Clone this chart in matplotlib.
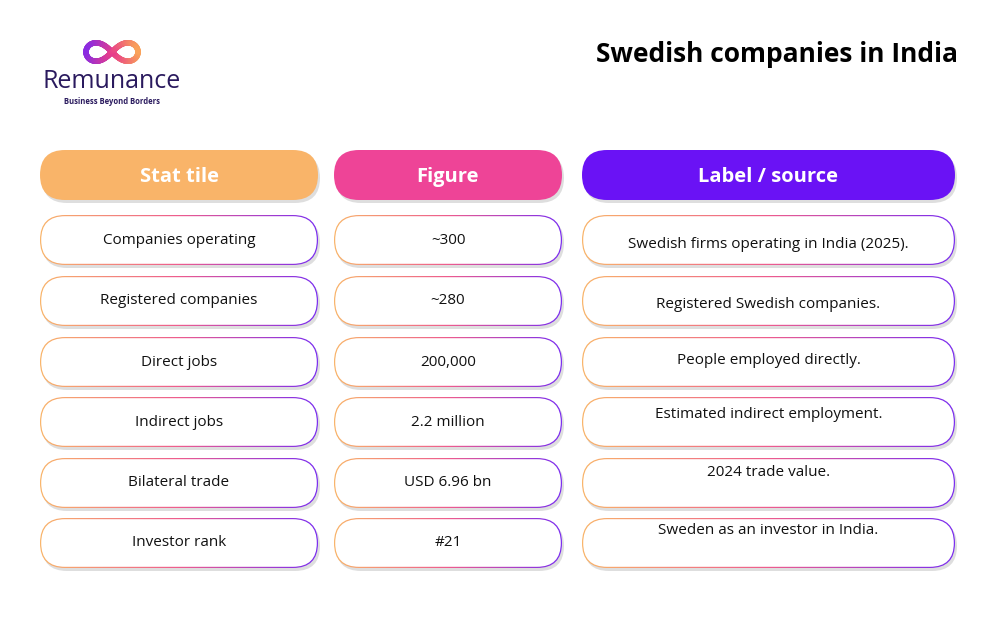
import numpy as np
import matplotlib
matplotlib.use("Agg")
import matplotlib.pyplot as plt
from matplotlib.patches import FancyBboxPatch
from matplotlib.colors import LinearSegmentedColormap

title = "Swedish companies in India"
headers = ["Stat tile", "Figure", "Label / source"]
stats = ["Companies operating", "Registered companies", "Direct jobs", "Indirect jobs",
         "Bilateral trade", "Investor rank"]
figures = ["~300", "~280", "200,000", "2.2 million", "USD 6.96 bn", "#21"]
labels = ["Swedish firms operating in India (2025).", "Registered Swedish companies.",
          "People employed directly.", "Estimated indirect employment.",
          "2024 trade value.", "Sweden as an investor in India."]

FONT = ["Open Sans", "DejaVu Sans"]
fig = plt.figure(figsize=(10, 6.17), dpi=100)
ax = fig.add_axes([0, 0, 1, 1])
ax.set_xlim(0, 1000); ax.set_ylim(617, 0); ax.axis("off")

cols = [(40, 318), (334, 562), (582, 955)]
head_cols = ["#F9B469", "#EE4497", "#6A12F5"]
grad = LinearSegmentedColormap.from_list("g", ["#F9B469", "#EE5C8E", "#7A2CF0"])

def pill(x0, x1, y0, y1, fc, z=2, shadow=True):
    h = y1 - y0
    r = h / 2
    if shadow:
        ax.add_patch(FancyBboxPatch((x0 + r + 2, y0 + r + 3), (x1 - x0) - 2 * r, 0,
                                    boxstyle=f"round,pad={r}", fc=(0, 0, 0, 0.13), ec="none", zorder=z - 1))
    return ax.add_patch(FancyBboxPatch((x0 + r, y0 + r), (x1 - x0) - 2 * r, 0,
                                       boxstyle=f"round,pad={r}", fc=fc, ec="none", zorder=z))

for (x0, x1), c, t in zip(cols, head_cols, headers):
    pill(x0, x1, 150, 200, c)
    ax.text((x0 + x1) / 2, 177, t, ha="center", va="center", color="white",
            fontsize=14.5, fontweight="bold", family=FONT, zorder=5)

row_top = [215, 276, 337, 397, 458, 518]
col3_y = [244, 305, 361, 415, 473, 531]
gx = np.linspace(0, 1, 256)[None, :]
for i, yt in enumerate(row_top):
    y0, y1 = yt, yt + 50
    for j, (x0, x1) in enumerate(cols):
        outer = pill(x0, x1, y0, y1, "none", z=2)
        im = ax.imshow(gx, cmap=grad, extent=(x0, x1, y1, y0), aspect="auto", zorder=2.5)
        im.set_clip_path(outer)
        pill(x0 + 1.2, x1 - 1.2, y0 + 1.2, y1 - 1.2, "white", z=3, shadow=False)
    ax.text(sum(cols[0]) / 2, yt + 25, stats[i], ha="center", va="center", fontsize=11,
            family=FONT, color="#111111", zorder=5)
    ax.text(sum(cols[1]) / 2, yt + 25, figures[i], ha="center", va="center", fontsize=11,
            family=FONT, color="#111111", zorder=5)
    ax.text(sum(cols[2]) / 2, col3_y[i], labels[i], ha="center", va="center", fontsize=11,
            family=FONT, color="#111111", zorder=5)

ax.text(958, 55, title, ha="right", va="center", fontsize=19, fontweight="bold",
        family=FONT, color="#000000")

t = np.linspace(0, 2 * np.pi, 300)
lx = 112 + 26 * np.cos(t) / (1 + np.sin(t) ** 2)
ly = 52 + 26 * np.sin(t) * np.cos(t) / (1 + np.sin(t) ** 2)
cm = LinearSegmentedColormap.from_list("l", ["#8A2BE2", "#E83E8C", "#F9A25A"])
for k in range(len(t) - 1):
    ax.plot(lx[k:k + 2], ly[k:k + 2], color=cm((lx[k] - 86) / 52), lw=4, solid_capstyle="round")
ax.text(112, 82, "Remunance", ha="center", va="center", fontsize=18, family=FONT, color="#2A1A5E")
ax.text(112, 102, "Business Beyond Borders", ha="center", va="center", fontsize=5.5,
        fontweight="bold", family=FONT, color="#2A1A5E")

fig.savefig("out.png", dpi=100)
